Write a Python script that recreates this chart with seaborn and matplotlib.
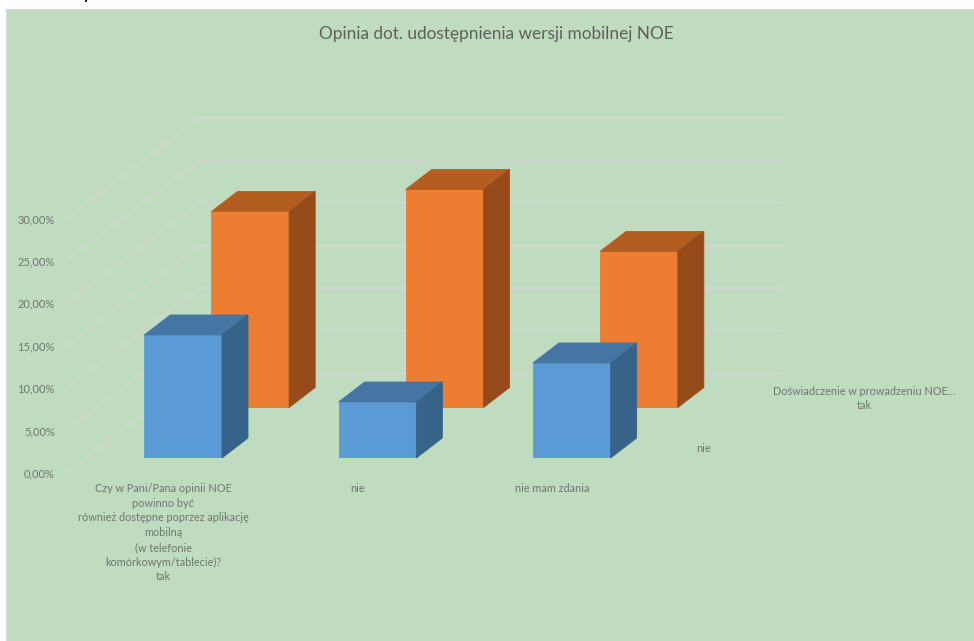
import matplotlib
matplotlib.use('Agg')
import matplotlib.pyplot as plt
from matplotlib.patches import Polygon
import seaborn as sns

categories = ['Czy w Pani/Pana opinii NOE\npowinno być\nrównież dostępne poprzez aplikację\nmobilną\n(w telefonie\nkomórkowym/tablecie)?\ntak',
              'nie', 'nie mam zdania']
values_tak = [14.5, 6.6, 11.2]
values_nie = [23.1, 25.7, 18.4]
series_names = ['nie', 'Doświadczenie w prowadzeniu NOE...\ntak']
tick_values = [0, 5, 10, 15, 20, 25, 30]
tick_labels = ['0,00%', '5,00%', '10,00%', '15,00%', '20,00%', '25,00%', '30,00%']
title = 'Opinia dot. udostępnienia wersji mobilnej NOE'

W, H = 974, 641
BG = '#C0DCC0'
GRID = '#D0D7CE'
TEXT = '#6E756E'

# wall of the fake 3d box, in pixels
WALL_LEFT, WALL_BASE, WALL_W, WALL_H = 199, 373, 583, 254.5
FLOOR_X, FLOOR_Y = 133, 100
PX_X = WALL_W / 3      # pixels per category
PX_Y = WALL_H / 30     # pixels per percent
BOX_X, BOX_Y = 26 / PX_X, 20 / PX_Y

sns.set_theme(style='white')
plt.rcParams['font.family'] = ['Lato', 'DejaVu Sans']


def plane(depth, z):
    # same axes moved along the floor diagonal, depth 0 = wall, 1 = front edge
    left = WALL_LEFT - FLOOR_X * depth
    base = WALL_BASE + FLOOR_Y * depth
    ax = fig.add_axes([left / W, 1 - base / H, WALL_W / W, WALL_H / H], zorder=z)
    ax.patch.set_alpha(0)
    for s in ax.spines.values():
        s.set_visible(False)
    return ax


def bars(ax, values, color, top, side):
    sns.barplot(x=list(range(3)), y=values, color=color, saturation=1, width=0.4,
                edgecolor=color, linewidth=0.6, ax=ax)
    for p in ax.patches[:]:
        x0, x1, h = p.get_x(), p.get_x() + p.get_width(), p.get_height()
        ax.add_patch(Polygon([(x0, h), (x1, h), (x1 + BOX_X, h + BOX_Y), (x0 + BOX_X, h + BOX_Y)],
                             fc=top, ec=top, lw=0.6, clip_on=False))
        ax.add_patch(Polygon([(x1, 0), (x1 + BOX_X, BOX_Y), (x1 + BOX_X, h + BOX_Y), (x1, h)],
                             fc=side, ec=side, lw=0.6, clip_on=False))
    ax.set_xlim(-0.5, 2.5)
    ax.set_ylim(0, 30)
    ax.set_xticks([])
    ax.set_yticks([])
    ax.set_xlabel('')
    ax.set_ylabel('')


fig = plt.figure(figsize=(W / 100, H / 100), dpi=100, facecolor='white')

bg = fig.add_axes([7 / W, 0, (W - 7) / W, (H - 10) / H], zorder=0, facecolor=BG)
bg.set_xticks([])
bg.set_yticks([])
for name, s in bg.spines.items():
    s.set_visible(name in ('top', 'left'))
    s.set_color('#D6D6D6')
    s.set_linewidth(1.5)

# back wall grid and the lines running down the side wall
wall = plane(0, 1)
wall.set_xlim(-0.5, 2.5)
wall.set_ylim(0, 30)
wall.set_xticks([])
wall.set_yticks(tick_values)
wall.set_yticklabels([])
wall.tick_params(length=0)
wall.grid(axis='y', color=GRID, lw=1.2, clip_on=False)
for v in tick_values:
    wall.plot([-0.5 - FLOOR_X / PX_X, -0.5], [v - FLOOR_Y / PX_Y, v], color=GRID, lw=1.2, clip_on=False)

# tick labels sit on the front edge of the floor
front_edge = plane(1, 2)
front_edge.set_xlim(-0.5, 2.5)
front_edge.set_ylim(0, 30)
front_edge.set_yticks(tick_values)
front_edge.set_yticklabels(tick_labels, fontsize=8, color=TEXT)
front_edge.set_xticks(range(3))
front_edge.set_xticklabels(categories, fontsize=7.85, color=TEXT, linespacing=1.42, va='top')
front_edge.tick_params(axis='y', length=0, pad=8)
front_edge.tick_params(axis='x', length=0, pad=7)

back = plane(0.345, 3)
bars(back, values_nie, '#ED7D31', '#B45D20', '#964C1A')
back.annotate(series_names[1], xy=(1, 0), xycoords='axes fraction', xytext=(128, 9),
              textcoords='offset pixels', ha='center', va='center', fontsize=7.85, color=TEXT, linespacing=1.42)

front = plane(0.85, 4)
bars(front, values_tak, '#5B9BD5', '#4575A2', '#386388')
front.annotate(series_names[0], xy=(1, 0), xycoords='axes fraction', xytext=(35, 10),
               textcoords='offset pixels', ha='center', va='center', fontsize=7.85, color=TEXT)

fig.text(496 / W, 1 - 34 / H, title, ha='center', va='center', fontsize=12.4, color='#5F5F5F')
# descender of a cut off line above the chart
fig.text(87 / W, 1 + 1.5 / H, 'y', ha='center', va='baseline', fontsize=15, color='black')

fig.savefig('out.png', dpi=100)
